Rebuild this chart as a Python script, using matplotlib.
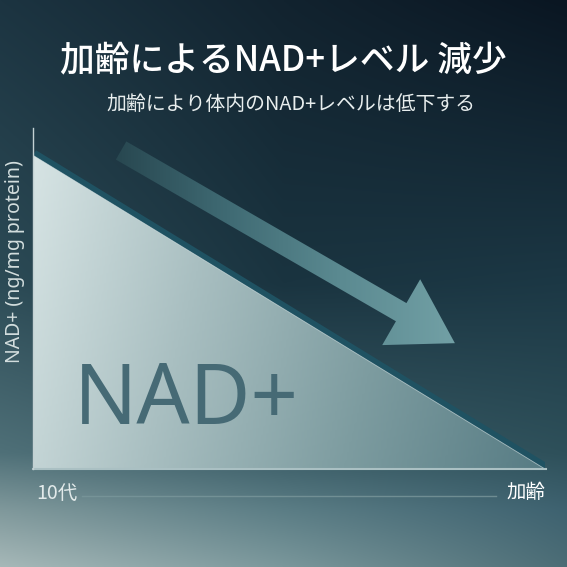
import numpy as np
import matplotlib.pyplot as plt
from matplotlib.colors import LinearSegmentedColormap, to_rgb
from matplotlib.patches import Polygon
from matplotlib.lines import Line2D

# data: NAD+ level falls with age (relative units)
age_labels = ["10代", "加齢"]
age_pos = [0.0, 1.0]
nad_level = [0.92, 0.0]

title = "加齢によるNAD+レベル 減少"
subtitle = "加齢により体内のNAD+レベルは低下する"
ylabel = "NAD+ (ng/mg protein)"

W = H = 567
fig = plt.figure(figsize=(W / 100, H / 100), dpi=100)

# background gradient: colour grid, interpolated down each column then across
bg = fig.add_axes([0, 0, 1, 1])
bg.set_axis_off()
rows = [0.0, 0.5, 0.8, 0.9, 1.0]
cols = [0.0, 0.5, 1.0]
grid = [
    ["#1c3441", "#2c4b56", "#4f7078", "#7f989b", "#a6b8b8"],
    ["#12232f", "#1a3440", "#3a5c66", "#5b7d85", "#7a979b"],
    ["#0a1622", "#1c3845", "#2e505a", "#3e6270", "#4c6d76"],
]
ny, nx = 300, 300
yv = np.linspace(0, 1, ny)
xv = np.linspace(0, 1, nx)
col_imgs = []
for c in grid:
    rgb = np.array([to_rgb(h) for h in c])
    col_imgs.append(np.stack([np.interp(yv, rows, rgb[:, k]) for k in range(3)], axis=1))
col_imgs = np.array(col_imgs)  # (3, ny, 3)
img = np.zeros((ny, nx, 3))
for k in range(3):
    for j in range(ny):
        img[j, :, k] = np.interp(xv, cols, col_imgs[:, j, k])
bg.imshow(img, extent=[0, 1, 1, 0], aspect="auto")
bg.set_xlim(0, 1)
bg.set_ylim(1, 0)

# chart area
x0, x1, y0, y1 = 33, 545, 128, 469
ax = fig.add_axes([x0 / W, 1 - y1 / H, (x1 - x0) / W, (y1 - y0) / H])
ax.set_axis_off()
ax.patch.set_alpha(0)
ax.set_xlim(0, 1)
ax.set_ylim(0, 1)

# dark band along the decline
ax.plot(age_pos, nad_level, color="#1f5262", lw=8.5, solid_capstyle="butt", zorder=2)

# triangle fill with gradient
tri = ax.fill_between(age_pos, nad_level, 0, color="none", zorder=3)
gx, gy = np.meshgrid(np.linspace(0, 1, 200), np.linspace(1, 0, 200))
tcol = np.clip(gx * 0.85 + (1 - gy) * 0.15, 0, 1)
fill_cmap = LinearSegmentedColormap.from_list("fill", ["#d8e5e5", "#a9bfc1", "#7d9ca0", "#577c84"])
im = ax.imshow(tcol, cmap=fill_cmap, extent=[0, 1, 0, 1], aspect="auto", zorder=3, vmin=0, vmax=1)
im.set_clip_path(tri.get_paths()[0], transform=ax.transData)
ax.plot(age_pos, nad_level, color="#e6eeee", lw=0.6, alpha=0.6, zorder=4)

# axes lines
ax.plot([0, 1.002], [0, 0], color="#aac0c3", lw=1.5, clip_on=False, zorder=5)
ax.plot([0, 0], [0, 1.0], color="#c3d1d3", lw=1.0, clip_on=False, zorder=5)

# arrow showing the trend, gradient coloured
start = np.array([0.172, 0.934])
tip = np.array([0.824, 0.369])
sx, sy = ax.transData.transform(start)
tx, ty_ = ax.transData.transform(tip)
d = np.array([tx - sx, ty_ - sy])
L = np.hypot(*d)
u = d / L
n = np.array([-u[1], u[0]])
shaft_w, head_w, head_l = 21, 76, 62
base = np.array([sx, sy]) + u * (L - head_l)
pts_px = [
    np.array([sx, sy]) + n * shaft_w / 2,
    base + n * shaft_w / 2,
    base + n * head_w / 2,
    np.array([tx, ty_]),
    base - n * head_w / 2,
    base - n * shaft_w / 2,
    np.array([sx, sy]) - n * shaft_w / 2,
]
pts = ax.transData.inverted().transform(np.array(pts_px))
arrow = Polygon(pts, closed=True, transform=ax.transData, facecolor="none", edgecolor="none")
ax.add_patch(arrow)
ax_grad = np.linspace(0, 1, 300)[None, :].repeat(10, axis=0)
arrow_cmap = LinearSegmentedColormap.from_list("arr", ["#27464f", "#3f6a73", "#5b8a91", "#72a0a5"])
aim = ax.imshow(ax_grad, cmap=arrow_cmap, extent=[start[0] - 0.02, tip[0], 0, 1],
                aspect="auto", zorder=2.5)
aim.set_clip_path(arrow)

# big label
ax.text(0.08, 0.132, "NAD+", fontsize=60, family=["Noto Sans", "DejaVu Sans"],
        color="#466a75", ha="left", va="baseline", zorder=6)

jp = ["Noto Sans CJK JP", "DejaVu Sans"]
fig.text(283 / W, 1 - 60 / H, title, fontsize=25, fontweight="medium", family=jp,
         color="white", ha="center", va="center")
fig.text(291 / W, 1 - 105 / H, subtitle, fontsize=14.3, family=jp,
         color="#e8eeee", ha="center", va="center")
fig.text(15 / W, 1 - 262 / H, ylabel, fontsize=14, family=["Noto Sans", "DejaVu Sans"],
         rotation=90, color="#d3dede", ha="center", va="center")

fig.text(36 / W, 1 - 493 / H, age_labels[0], fontsize=14, family=jp,
         color="#e2eaea", ha="left", va="center")
fig.text(545 / W, 1 - 493 / H, age_labels[1], fontsize=14, family=jp,
         color="white", ha="right", va="center")
fig.add_artist(Line2D([82 / W, 496 / W], [1 - 496 / H, 1 - 496 / H], color="#7a979b",
                      lw=1.0, alpha=0.8))

fig.savefig("out.png", dpi=100)
